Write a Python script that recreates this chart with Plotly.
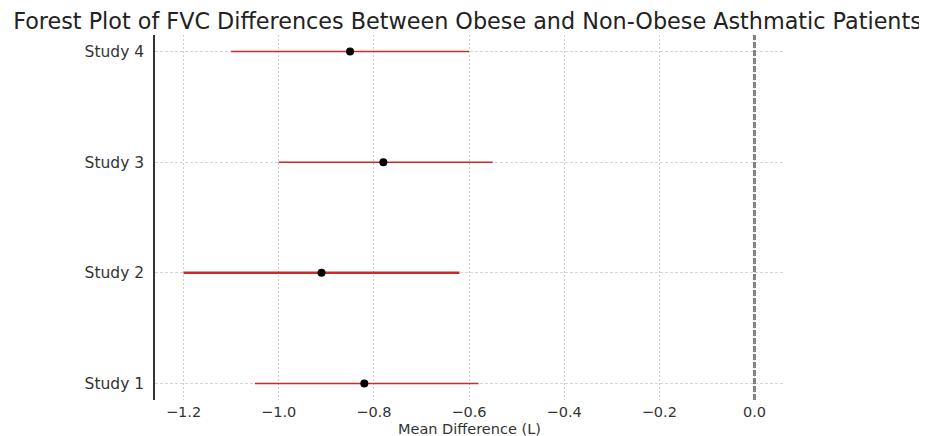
import plotly.graph_objects as go

studies = ["Study 1", "Study 2", "Study 3", "Study 4"]
mean_diff = [-0.82, -0.91, -0.78, -0.85]
ci_lower = [-1.05, -1.20, -1.00, -1.10]
ci_upper = [-0.58, -0.62, -0.55, -0.60]
line_widths = [1.5, 2.6, 1.5, 1.5]
x_ticks = [-1.2, -1.0, -0.8, -0.6, -0.4, -0.2, 0.0]

FONT = "DejaVu Sans"
W, H = 919, 428
MT, MB = 27, 36
PLOT_H = H - MT - MB
fig = go.Figure()

for i, s in enumerate(studies):
    fig.add_trace(go.Scatter(
        x=[ci_lower[i], ci_upper[i]], y=[i, i], mode="lines",
        line=dict(color="#cc2a2a", width=line_widths[i]),
        showlegend=False, hoverinfo="skip"))

fig.add_trace(go.Scatter(
    x=mean_diff, y=list(range(len(studies))), mode="markers",
    marker=dict(color="black", size=8), showlegend=False))

fig.add_vline(x=0, line=dict(color="#808080", width=3, dash="6px,2px"))

fig.add_annotation(text="Mean Difference (L)", xref="paper", x=0.5, xanchor="center",
                   yref="paper", y=-29 / PLOT_H, yanchor="middle", showarrow=False,
                   font=dict(family=FONT, size=14.5, color="#333333"))

fig.update_layout(
    width=W, height=H,
    margin=dict(l=147, r=144, t=MT, b=MB, autoexpand=False),
    paper_bgcolor="white", plot_bgcolor="white",
    title=dict(text="Forest Plot of FVC Differences Between Obese and Non-Obese Asthmatic Patients",
               x=0.5, xref="container", xanchor="center",
               y=1 - 13 / H, yref="container", yanchor="middle",
               font=dict(family=FONT, size=22.3, color="#222222")),
    font=dict(family=FONT, size=15, color="#333333"),
    xaxis=dict(range=[-1.26, 0.06], tickvals=x_ticks, tickformat=".1f",
               showgrid=True, gridcolor="#cfcfcf", gridwidth=1, griddash="2px,2px",
               zeroline=False, showline=False, ticks="", automargin=False,
               tickfont=dict(size=14.5, color="#333333"), ticklabelstandoff=1),
    yaxis=dict(range=[-0.15, 3.15], tickvals=list(range(len(studies))), ticktext=studies,
               showgrid=True, gridcolor="#d5d5d5", gridwidth=1, griddash="3px,2px",
               zeroline=False, showline=True, linecolor="#333333", linewidth=1.5,
               ticks="", ticklabelstandoff=6, automargin=False,
               tickfont=dict(size=15.5, color="#333333")),
)

fig.write_html("out.html")
